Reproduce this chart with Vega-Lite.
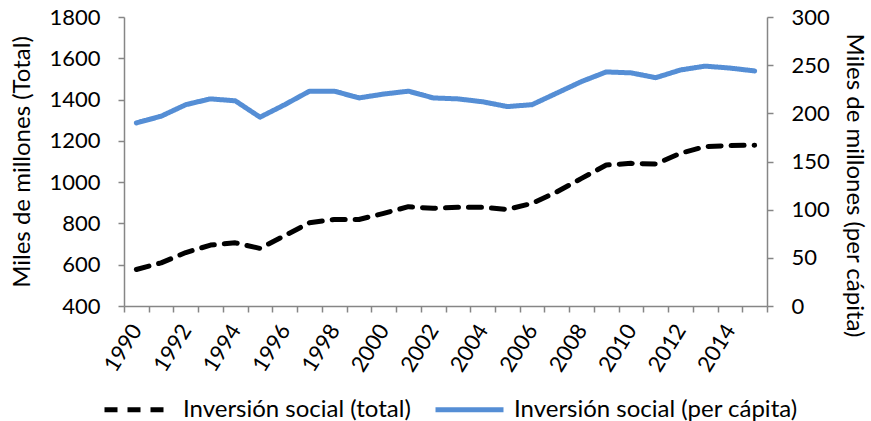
{
  "$schema": "https://vega.github.io/schema/vega-lite/v6.json",
  "width": 643,
  "height": 289,
  "autosize": {"type": "none"},
  "padding": {"left": 124, "top": 17, "right": 104, "bottom": 115},
  "config": {
    "view": {"stroke": null},
    "font": "Lato",
    "axis": {
      "labelFont": "Lato", "titleFont": "Lato",
      "labelFontSize": 22, "titleFontSize": 24, "titleFontWeight": "normal",
      "labelColor": "#000000", "titleColor": "#000000",
      "domainColor": "#868686", "tickColor": "#868686",
      "domainWidth": 1.5, "tickWidth": 1.5, "tickSize": 6,
      "grid": false, "labelPadding": 18
    },
    "legend": {
      "labelFont": "Lato", "labelFontSize": 24, "labelColor": "#000000", "labelLimit": 0
    }
  },
  "data": {"values": [
    {"year": 1990, "serie": "Inversión social (total)", "value": 577},
    {"year": 1991, "serie": "Inversión social (total)", "value": 609},
    {"year": 1992, "serie": "Inversión social (total)", "value": 659},
    {"year": 1993, "serie": "Inversión social (total)", "value": 695},
    {"year": 1994, "serie": "Inversión social (total)", "value": 706},
    {"year": 1995, "serie": "Inversión social (total)", "value": 679},
    {"year": 1996, "serie": "Inversión social (total)", "value": 741},
    {"year": 1997, "serie": "Inversión social (total)", "value": 803},
    {"year": 1998, "serie": "Inversión social (total)", "value": 819},
    {"year": 1999, "serie": "Inversión social (total)", "value": 819},
    {"year": 2000, "serie": "Inversión social (total)", "value": 849},
    {"year": 2001, "serie": "Inversión social (total)", "value": 881},
    {"year": 2002, "serie": "Inversión social (total)", "value": 873},
    {"year": 2003, "serie": "Inversión social (total)", "value": 878},
    {"year": 2004, "serie": "Inversión social (total)", "value": 878},
    {"year": 2005, "serie": "Inversión social (total)", "value": 868},
    {"year": 2006, "serie": "Inversión social (total)", "value": 897},
    {"year": 2007, "serie": "Inversión social (total)", "value": 953},
    {"year": 2008, "serie": "Inversión social (total)", "value": 1018},
    {"year": 2009, "serie": "Inversión social (total)", "value": 1083},
    {"year": 2010, "serie": "Inversión social (total)", "value": 1091},
    {"year": 2011, "serie": "Inversión social (total)", "value": 1088},
    {"year": 2012, "serie": "Inversión social (total)", "value": 1140},
    {"year": 2013, "serie": "Inversión social (total)", "value": 1172},
    {"year": 2014, "serie": "Inversión social (total)", "value": 1177},
    {"year": 2015, "serie": "Inversión social (total)", "value": 1179},
    {"year": 1990, "serie": "Inversión social (per cápita)", "value": 190},
    {"year": 1991, "serie": "Inversión social (per cápita)", "value": 197},
    {"year": 1992, "serie": "Inversión social (per cápita)", "value": 209},
    {"year": 1993, "serie": "Inversión social (per cápita)", "value": 215},
    {"year": 1994, "serie": "Inversión social (per cápita)", "value": 213},
    {"year": 1995, "serie": "Inversión social (per cápita)", "value": 196},
    {"year": 1996, "serie": "Inversión social (per cápita)", "value": 209},
    {"year": 1997, "serie": "Inversión social (per cápita)", "value": 223},
    {"year": 1998, "serie": "Inversión social (per cápita)", "value": 223},
    {"year": 1999, "serie": "Inversión social (per cápita)", "value": 216},
    {"year": 2000, "serie": "Inversión social (per cápita)", "value": 220},
    {"year": 2001, "serie": "Inversión social (per cápita)", "value": 223},
    {"year": 2002, "serie": "Inversión social (per cápita)", "value": 216},
    {"year": 2003, "serie": "Inversión social (per cápita)", "value": 215},
    {"year": 2004, "serie": "Inversión social (per cápita)", "value": 212},
    {"year": 2005, "serie": "Inversión social (per cápita)", "value": 207},
    {"year": 2006, "serie": "Inversión social (per cápita)", "value": 209},
    {"year": 2007, "serie": "Inversión social (per cápita)", "value": 221},
    {"year": 2008, "serie": "Inversión social (per cápita)", "value": 233},
    {"year": 2009, "serie": "Inversión social (per cápita)", "value": 243},
    {"year": 2010, "serie": "Inversión social (per cápita)", "value": 242},
    {"year": 2011, "serie": "Inversión social (per cápita)", "value": 237},
    {"year": 2012, "serie": "Inversión social (per cápita)", "value": 245},
    {"year": 2013, "serie": "Inversión social (per cápita)", "value": 249},
    {"year": 2014, "serie": "Inversión social (per cápita)", "value": 247},
    {"year": 2015, "serie": "Inversión social (per cápita)", "value": 244}
  ]},
  "encoding": {
    "x": {
      "field": "year", "type": "ordinal", "bandPosition": 0.5,
      "scale": {"type": "band", "paddingInner": 0, "paddingOuter": 0},
      "axis": {
        "title": null, "tickBand": "extent", "labelAngle": -58,
        "labelAlign": "right", "labelBaseline": "middle", "labelPadding": 14,
        "labelOverlap": false,
        "labelExpr": "datum.value % 2 == 0 ? datum.label : ''"
      }
    },
    "color": {
      "field": "serie", "type": "nominal",
      "scale": {"domain": ["Inversión social (total)", "Inversión social (per cápita)"], "range": ["#000000", "#558ED5"]},
      "legend": {
        "title": null, "orient": "none", "legendX": -22, "legendY": 356,
        "direction": "horizontal", "symbolType": "stroke", "symbolSize": 4624,
        "symbolStrokeWidth": 5, "labelOffset": 8, "columnPadding": 14, "labelLimit": 0
      }
    },
    "strokeDash": {
      "field": "serie", "type": "nominal",
      "scale": {"domain": ["Inversión social (total)", "Inversión social (per cápita)"], "range": [[13, 10], [1, 0]]},
      "legend": {
        "title": null, "orient": "none", "legendX": -22, "legendY": 356,
        "direction": "horizontal", "symbolType": "stroke", "symbolSize": 4624,
        "symbolStrokeWidth": 5, "labelOffset": 8, "columnPadding": 14, "labelLimit": 0
      }
    }
  },
  "layer": [
    {
      "transform": [{"filter": "datum.serie == 'Inversión social (total)'"}],
      "mark": {"type": "line", "strokeWidth": 5, "strokeCap": "round", "strokeJoin": "round"},
      "encoding": {
        "y": {
          "field": "value", "type": "quantitative",
          "scale": {"domain": [400, 1800], "nice": false, "zero": false},
          "axis": {"title": "Miles de millones (Total)", "orient": "left", "format": "d", "values": [400, 600, 800, 1000, 1200, 1400, 1600, 1800], "titlePadding": 14}
        }
      }
    },
    {
      "transform": [{"filter": "datum.serie == 'Inversión social (per cápita)'"}],
      "mark": {"type": "line", "strokeWidth": 5, "strokeCap": "round", "strokeJoin": "round"},
      "encoding": {
        "y": {
          "field": "value", "type": "quantitative",
          "scale": {"domain": [0, 300], "nice": false},
          "axis": {"title": "Miles de millones (per cápita)", "orient": "right", "format": "d", "values": [0, 50, 100, 150, 200, 250, 300], "titlePadding": 12, "titleY": 168}
        }
      }
    }
  ],
  "resolve": {"scale": {"y": "independent"}}
}
